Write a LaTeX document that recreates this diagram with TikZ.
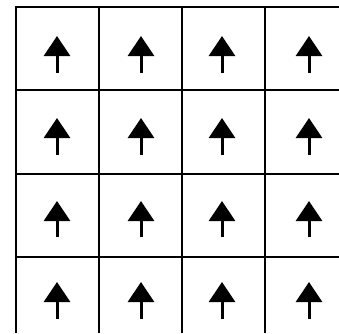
\documentclass[tikz,border=0pt]{standalone}
\usetikzlibrary{arrows.meta}
\tikzset{
  gridline/.style={draw=black,line width=1.8pt},
  spinup/.style={draw=black,line width=3pt,-{Triangle[length=20pt,width=26pt]}}
}
\begin{document}
\begin{tikzpicture}[x=1pt,y=-1pt]
\path[use as bounding box] (0,0) rectangle (339,333);
\path[fill=white,draw=none] (0,0) rectangle (339,333);
% lattice lines, open to the right and bottom
\draw[gridline] (16,7) -- (16,333);
\draw[gridline] (99,7) -- (99,333);
\draw[gridline] (182,7) -- (182,333);
\draw[gridline] (265,7) -- (265,333);
\draw[gridline] (15.1,7) -- (339,7);
\draw[gridline] (16,90) -- (339,90);
\draw[gridline] (16,174) -- (339,174);
\draw[gridline] (16,257) -- (339,257);
% spins
\draw[spinup] (57,73) -- (57,36);
\draw[spinup] (141,73) -- (141,36);
\draw[spinup] (222,73) -- (222,36);
\draw[spinup] (309,73) -- (309,36);
\draw[spinup] (57,155) -- (57,118);
\draw[spinup] (141,155) -- (141,118);
\draw[spinup] (222,155) -- (222,118);
\draw[spinup] (309,155) -- (309,118);
\draw[spinup] (57,237) -- (57,201);
\draw[spinup] (141,237) -- (141,201);
\draw[spinup] (222,237) -- (222,201);
\draw[spinup] (309,237) -- (309,201);
\draw[spinup] (57,319) -- (57,282);
\draw[spinup] (141,319) -- (141,282);
\draw[spinup] (222,319) -- (222,282);
\draw[spinup] (309,319) -- (309,282);
\end{tikzpicture}
\end{document}
